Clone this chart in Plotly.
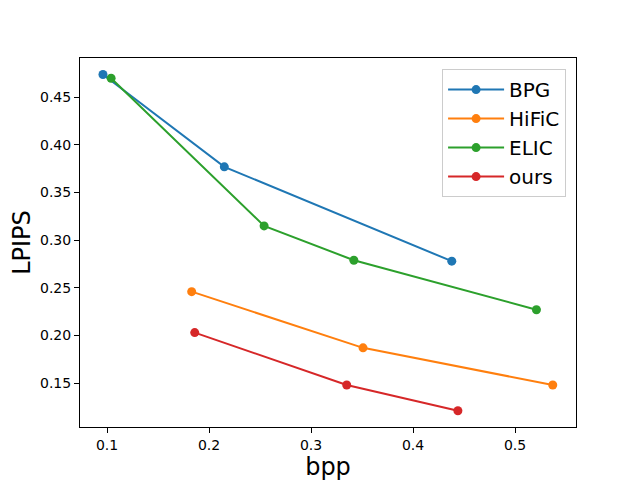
import plotly.graph_objects as go

# rate / distortion points
methods = ["BPG", "HiFiC", "ELIC", "ours"]
colors = ["#1f77b4", "#ff7f0e", "#2ca02c", "#d62728"]

bpg_bpp = [0.096, 0.215, 0.438]
bpg_lpips = [0.474, 0.377, 0.278]

hific_bpp = [0.183, 0.351, 0.537]
hific_lpips = [0.246, 0.187, 0.148]

elic_bpp = [0.104, 0.254, 0.342, 0.521]
elic_lpips = [0.470, 0.315, 0.279, 0.227]

ours_bpp = [0.186, 0.335, 0.444]
ours_lpips = [0.203, 0.148, 0.121]

xs = [bpg_bpp, hific_bpp, elic_bpp, ours_bpp]
ys = [bpg_lpips, hific_lpips, elic_lpips, ours_lpips]

fig = go.Figure()
for name, c, x, y in zip(methods, colors, xs, ys):
    fig.add_trace(go.Scatter(
        x=x, y=y, name=name, mode="lines+markers",
        line=dict(color=c, width=2),
        marker=dict(color=c, size=9)))

axis_style = dict(
    showline=True, linecolor="black", linewidth=1, mirror=True,
    ticks="outside", ticklen=5, tickcolor="black", showgrid=False,
    zeroline=False, automargin=False, tickfont=dict(size=14, color="black"))

fig.update_xaxes(range=[0.0735, 0.5598], tickvals=[0.1, 0.2, 0.3, 0.4, 0.5],
                 title=dict(text="bpp", font=dict(size=24, color="black"), standoff=6),
                 **axis_style)
fig.update_yaxes(range=[0.1039, 0.4913], tickvals=[0.15, 0.2, 0.25, 0.3, 0.35, 0.4, 0.45],
                 tickformat=".2f",
                 title=dict(text="LPIPS", font=dict(size=24, color="black"), standoff=8),
                 **axis_style)

# page body adds an 8px offset, so margins are shifted to compensate
fig.update_layout(
    width=640, height=480,
    margin=dict(l=72, r=72, t=50, b=61),
    plot_bgcolor="white", paper_bgcolor="white",
    font=dict(family="DejaVu Sans", color="black"),
    legend=dict(x=0.98, y=0.97, xanchor="right", yanchor="top",
                font=dict(size=20), bgcolor="white", itemwidth=56,
                bordercolor="#cccccc", borderwidth=1, tracegroupgap=0),
)

fig.write_html("out.html")
